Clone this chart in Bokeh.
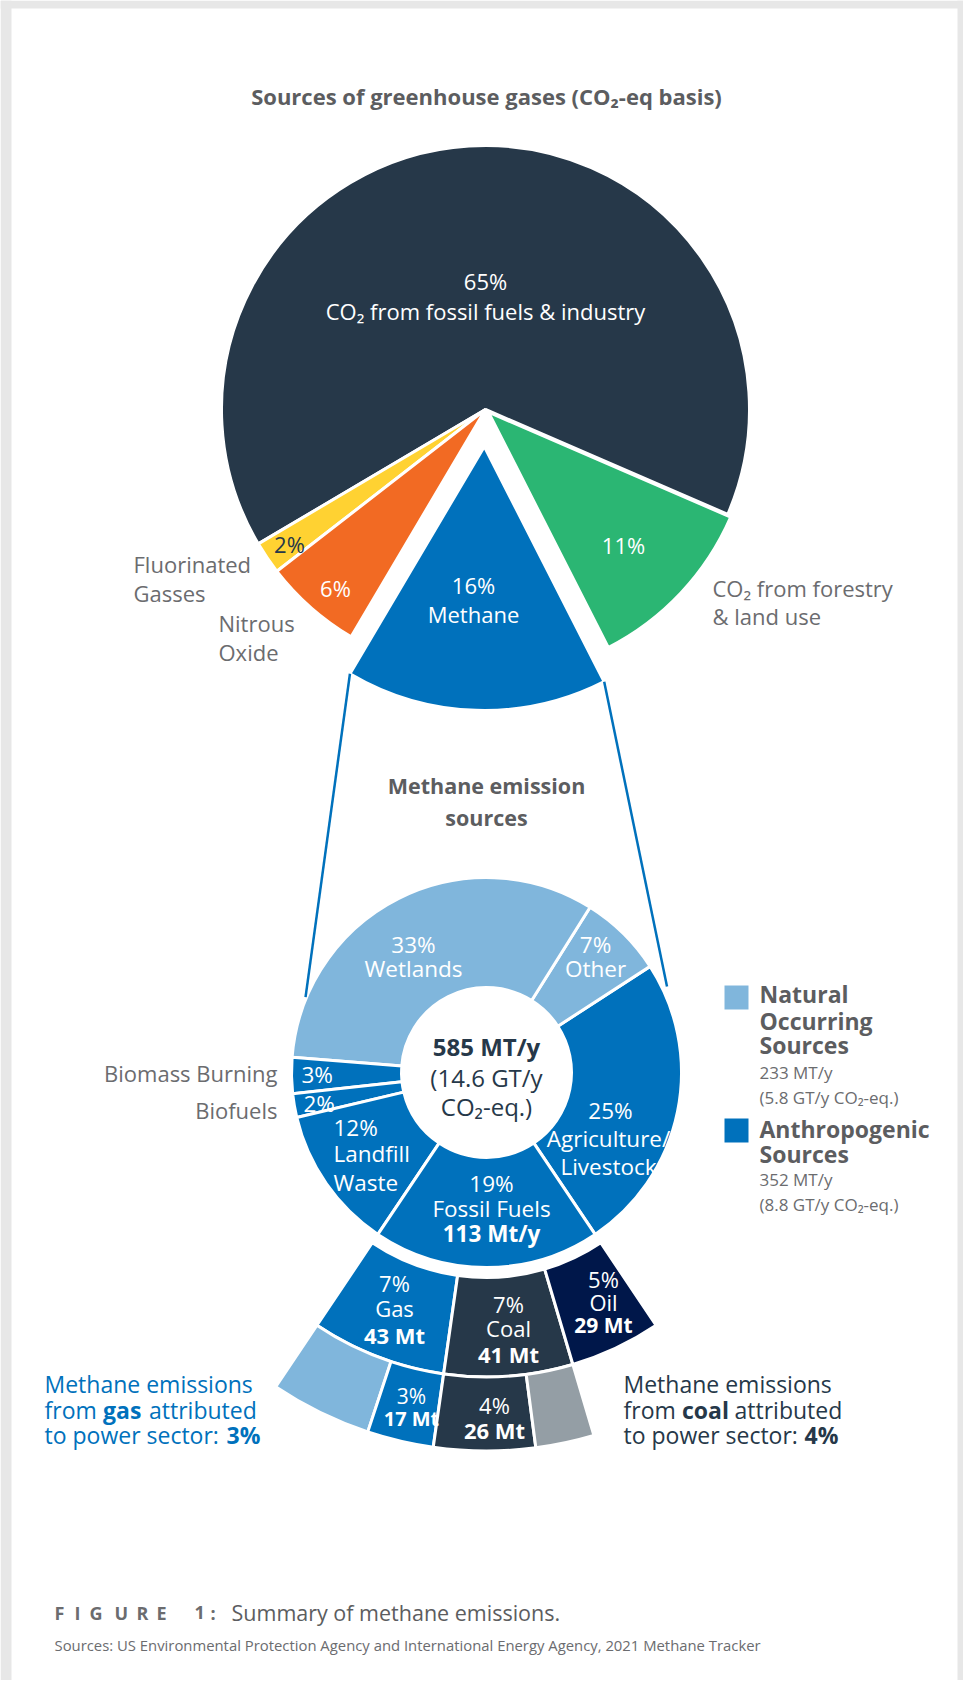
import numpy as np
from bokeh.plotting import figure
from bokeh.models import Range1d, ColumnDataSource
from bokeh.core.properties import value
from bokeh.embed import file_html
from bokeh.resources import INLINE

# ---------------- data ----------------
ghg_names = ["CO₂ from forestry & land use", "CO₂ from fossil fuels & industry",
             "Fluorinated Gasses", "Nitrous Oxide", "Methane"]
ghg_share = [11, 65, 2, 6, 16]
ghg_colors = ["#2bb673", "#263849", "#ffd232", "#f26a23", "#0071bc"]

ch4_names = ["Agriculture/Livestock", "Other", "Wetlands", "Biomass Burning",
             "Biofuels", "Landfill Waste", "Fossil Fuels"]
ch4_share = [25, 7, 33, 3, 2, 12, 19]
ch4_kind = ["Anthropogenic", "Natural", "Natural", "Anthropogenic",
            "Anthropogenic", "Anthropogenic", "Anthropogenic"]

fossil_names = ["Gas", "Coal", "Oil"]
fossil_mt = [43, 41, 29]
fossil_share = [7, 7, 5]
fossil_total_mt = 113

power_names = ["Gas", "Coal"]
power_mt = [17, 26]
power_share = [3, 4]

total_mt = 585
total_gt = 14.6
natural_mt, natural_gt = 233, 5.8
anthro_mt, anthro_gt = 352, 8.8

# ---------------- colours / fonts ----------------
C_NAT = "#80b6dc"
C_ANT = "#0071bc"
C_DARK = "#263849"
C_OIL = "#00174a"
C_GRAY = "#949ea5"
C_TXT = "#6b6c6f"
C_TTL = "#5c5d60"
FONT = value("Open Sans")

H = 1682
def Y(y):
    return H - y

p = figure(width=963, height=1680, x_range=Range1d(0, 963), y_range=Range1d(2, 1682),
           output_backend="svg", toolbar_location=None, min_border=0,
           x_axis_location=None, y_axis_location=None)
p.grid.visible = False
p.outline_line_color = None
p.background_fill_color = "white"
p.border_fill_color = "white"

# card frame (light grey band)
p.quad(left=[0, 0, 957], right=[11, 963, 963], bottom=[Y(1682), Y(8), Y(1682)], top=[Y(0), Y(0), Y(0)],
       fill_color="#e7e7e7", line_color=None)

def T(x, y, s, size=22, color="white", bold=False, align="center"):
    p.text(x=[x], y=[Y(y)], text=[s], text_font=FONT, text_font_size=f"{size}px",
           text_color=color, text_align=align, text_baseline="middle",
           text_font_style="bold" if bold else "normal")

# ---------------- top pie ----------------
cx0, cy0, R0 = 485, Y(409), 264
rot0 = np.deg2rad(-63)
share = np.array(ghg_share, float)
frac = share / share.sum()
ends = rot0 + np.cumsum(frac) * 2 * np.pi
starts = ends - frac * 2 * np.pi
explode = np.array([4, 0, 0, 0, 37])
mid = (starts + ends) / 2
xs = cx0 + explode * np.cos(mid)
ys = cy0 + explode * np.sin(mid)
p.wedge(x="x", y="y", radius=R0, start_angle="s", end_angle="e", fill_color="c",
        line_color="white", line_width=3,
        source=ColumnDataSource(dict(x=xs, y=ys, s=starts, e=ends, c=ghg_colors)))

# methane corner points -> connector lines to the donut
mi = 4
lx = xs[mi] + R0 * np.cos(starts[mi]); ly = ys[mi] + R0 * np.sin(starts[mi])
rx = xs[mi] + R0 * np.cos(ends[mi]); ry = ys[mi] + R0 * np.sin(ends[mi])

# ---------------- donut ----------------
cx1, cy1 = 486, Y(1072)
Rin, Rout = 85, 195
s1 = np.array(ch4_share, float)
f1 = s1 / s1.sum()
start1 = -np.pi / 2 + f1[-1] * np.pi
e1 = start1 + np.cumsum(f1) * 2 * np.pi
b1 = e1 - f1 * 2 * np.pi
cols1 = [C_NAT if k == "Natural" else C_ANT for k in ch4_kind]
p.annular_wedge(x=cx1, y=cy1, inner_radius=Rin, outer_radius=Rout, start_angle="s", end_angle="e",
                fill_color="c", line_color="white", line_width=3,
                source=ColumnDataSource(dict(s=b1, e=e1, c=cols1)))

a_l, a_r = np.deg2rad(157.4), np.deg2rad(25.5)
p.segment(x0=[lx, rx], y0=[ly, ry],
          x1=[cx1 + 196 * np.cos(a_l), cx1 + 200 * np.cos(a_r)],
          y1=[cy1 + 196 * np.sin(a_l), cy1 + 200 * np.sin(a_r)],
          line_color="#0071bc", line_width=2.5)

# ---------------- fossil ring ----------------
fs_start, fs_end = b1[-1], e1[-1]
span = fs_end - fs_start
fm = np.array(fossil_mt, float)
e2 = fs_start + np.cumsum(fm) / fossil_total_mt * span
b2 = e2 - fm / fossil_total_mt * span
p.annular_wedge(x=cx1, y=cy1, inner_radius=205, outer_radius=304.5, start_angle="s", end_angle="e",
                fill_color="c", line_color="white", line_width=3,
                source=ColumnDataSource(dict(s=b2, e=e2, c=[C_ANT, C_DARK, C_OIL])))

# ---------------- power ring ----------------
ring3_mt = np.array([fossil_mt[0] - power_mt[0], power_mt[0], power_mt[1], fossil_mt[1] - power_mt[1]], float)
ring3_col = [C_NAT, C_ANT, C_DARK, C_GRAY]
e3 = fs_start + np.cumsum(ring3_mt) / fossil_total_mt * span
b3 = e3 - ring3_mt / fossil_total_mt * span
p.annular_wedge(x=cx1, y=cy1, inner_radius=304.5, outer_radius=378.5, start_angle="s", end_angle="e",
                fill_color="c", line_color="white", line_width=3,
                source=ColumnDataSource(dict(s=b3, e=e3, c=ring3_col)))

# ---------------- texts: top ----------------
T(486, 95, "Sources of greenhouse gases (CO₂-eq basis)", 22, C_TTL, bold=True)
T(485, 280, f"{ghg_share[1]}%")
T(485, 310, ghg_names[1])
T(623, 544, f"{ghg_share[0]}%")
T(335, 587, f"{ghg_share[3]}%")
T(289, 543, f"{ghg_share[2]}%", color=C_DARK)
T(473, 584, f"{ghg_share[4]}%")
T(473, 613, ghg_names[4])
T(133, 563, "Fluorinated", color=C_TXT, align="left")
T(133, 592, "Gasses", color=C_TXT, align="left")
T(218, 622, "Nitrous", color=C_TXT, align="left")
T(218, 651, "Oxide", color=C_TXT, align="left")
T(712, 587, "CO₂ from forestry", color=C_TXT, align="left")
T(712, 615, "& land use", color=C_TXT, align="left")

T(486, 785, "Methane emission", 21.5, C_TTL, bold=True)
T(486, 817, "sources", 21.5, C_TTL, bold=True)

# ---------------- texts: donut ----------------
DS = 22.5
T(413, 944, f"{ch4_share[2]}%", DS); T(413, 968, "Wetlands", DS)
T(595, 944, f"{ch4_share[1]}%", DS); T(595, 968, "Other", DS)
T(610, 1110, f"{ch4_share[0]}%", DS); T(608, 1138, "Agriculture/", DS); T(608, 1166, "Livestock", DS)
T(491, 1183, f"{ch4_share[6]}%", DS); T(491, 1208, "Fossil Fuels", DS)
T(491, 1233, f"{fossil_total_mt} Mt/y", DS, bold=True)
T(333, 1127, f"{ch4_share[5]}%", DS, align="left"); T(333, 1153, "Landfill", DS, align="left")
T(333, 1182, "Waste", DS, align="left")
T(301, 1074, f"{ch4_share[3]}%", DS, align="left")
T(303, 1103, f"{ch4_share[4]}%", DS, align="left")
T(486, 1046, f"{total_mt} MT/y", 24, C_DARK, bold=True)
T(486, 1077, f"({total_gt} GT/y", 24, C_DARK)
T(486, 1106, "CO₂-eq.)", 24, C_DARK)
T(277, 1072, ch4_names[3], color=C_TXT, align="right")
T(277, 1109, ch4_names[4], color=C_TXT, align="right")

# ---------------- texts: rings ----------------
T(394, 1282, f"{fossil_share[0]}%"); T(394, 1307, fossil_names[0]); T(394, 1334, f"{fossil_mt[0]} Mt", bold=True)
T(508, 1303, f"{fossil_share[1]}%"); T(508, 1327, fossil_names[1]); T(508, 1353, f"{fossil_mt[1]} Mt", bold=True)
T(603, 1278, f"{fossil_share[2]}%"); T(603, 1301, fossil_names[2]); T(603, 1324, f"{fossil_mt[2]} Mt", bold=True, size=21)
T(411, 1395, f"{power_share[0]}%", size=21); T(411, 1418, f"{power_mt[0]} Mt", bold=True, size=20)
T(494, 1404, f"{power_share[1]}%"); T(494, 1429, f"{power_mt[1]} Mt", bold=True)

# ---------------- legend ----------------
p.rect(x=[736, 736], y=[Y(997), Y(1130)], width=24, height=24, fill_color=[C_NAT, C_ANT], line_color=None)
LB = 23
T(759, 993, "Natural", LB, C_TTL, bold=True, align="left")
T(759, 1020, "Occurring", LB, C_TTL, bold=True, align="left")
T(759, 1044, "Sources", LB, C_TTL, bold=True, align="left")
T(759, 1072, f"{natural_mt} MT/y", 17, C_TXT, align="left")
T(759, 1097, f"({natural_gt} GT/y CO₂-eq.)", 17, C_TXT, align="left")
T(759, 1128, "Anthropogenic", LB, C_TTL, bold=True, align="left")
T(759, 1153, "Sources", LB, C_TTL, bold=True, align="left")
T(759, 1179, f"{anthro_mt} MT/y", 17, C_TXT, align="left")
T(759, 1204, f"({anthro_gt} GT/y CO₂-eq.)", 17, C_TXT, align="left")

# ---------------- annotations ----------------
CB = "#0071bc"
T(44, 1383, "Methane emissions", 23, CB, align="left")
T(44, 1409, "from", 23, CB, align="left")
T(102.5, 1409, "gas", 23, CB, bold=True, align="left")
T(148.5, 1409, "attributed", 23, CB, align="left")
T(44, 1434, "to power sector:", 23, CB, align="left")
T(226, 1434, f"{power_share[0]}%", 23, CB, bold=True, align="left")

T(623, 1383, "Methane emissions", 23, C_DARK, align="left")
T(623, 1409, "from", 23, C_DARK, align="left")
T(681.5, 1409, "coal", 23, C_DARK, bold=True, align="left")
T(734, 1409, "attributed", 23, C_DARK, align="left")
T(623, 1434, "to power sector:", 23, C_DARK, align="left")
T(804, 1434, f"{power_share[1]}%", 23, C_DARK, bold=True, align="left")

# ---------------- footer ----------------
fig_chars = ["F", "I", "G", "U", "R", "E", "1", ":"]
fig_x = [54, 74, 89, 114, 136, 156, 194, 210]
for ch, xx in zip(fig_chars, fig_x):
    T(xx, 1612, ch, 18, C_TXT, bold=True, align="left")
T(231, 1612, "Summary of methane emissions.", 21.5, C_TTL, align="left")
T(54, 1644, "Sources: US Environmental Protection Agency and International Energy Agency, 2021 Methane Tracker",
  14.85, C_TXT, align="left")

open("out.html", "w").write(file_html(p, INLINE))
